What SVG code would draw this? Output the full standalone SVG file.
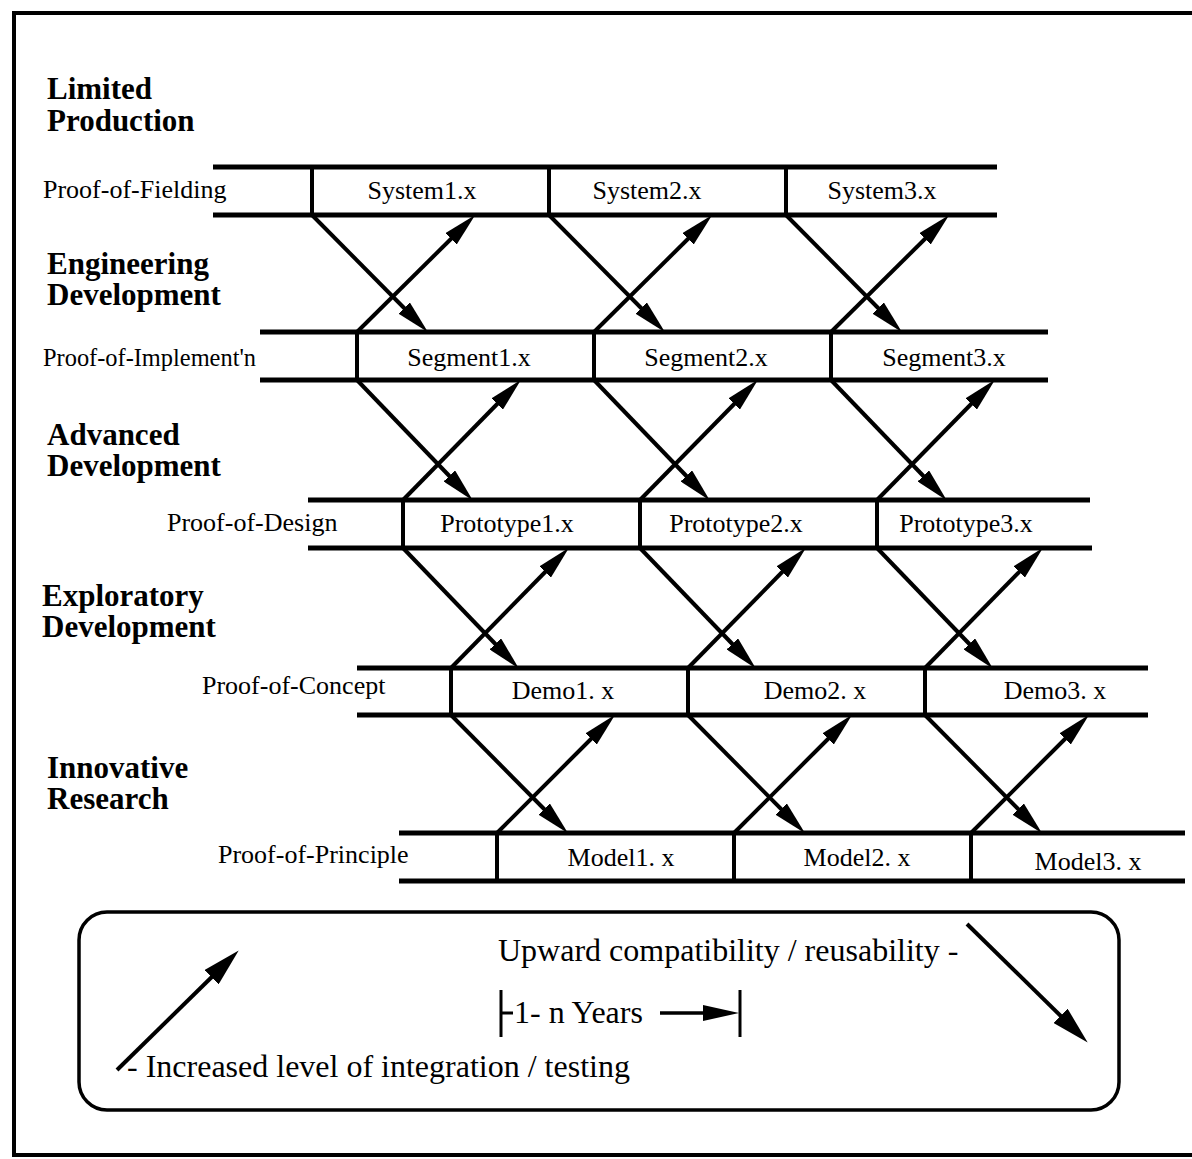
<svg xmlns="http://www.w3.org/2000/svg" width="1192" height="1159" viewBox="0 0 1192 1159">
<style>
.rail{stroke:#000;stroke-width:5;fill:none}
.div{stroke:#000;stroke-width:4;fill:none}
.con{stroke:#000;stroke-width:4;fill:none;marker-end:url(#ah)}
.lcon{stroke:#000;stroke-width:4;fill:none;marker-end:url(#ah2)}
.stage{font-family:"Liberation Serif","Times New Roman",serif;font-weight:bold;font-size:31px;fill:#000}
.lbl{font-family:"Liberation Serif","Times New Roman",serif;font-size:26px;fill:#000}
.box{font-family:"Liberation Serif","Times New Roman",serif;font-size:26px;fill:#000;text-anchor:middle}
.leg{font-family:"Liberation Serif","Times New Roman",serif;font-size:32px;fill:#000}
</style>
<defs>
<marker id="ah" viewBox="0 0 34 16" refX="14" refY="8" markerWidth="34" markerHeight="16" markerUnits="userSpaceOnUse" orient="auto">
<path d="M0,0 L34,8 L0,16 z" fill="#000"/>
</marker>
<marker id="ah2" viewBox="0 0 38 20" refX="16" refY="10" markerWidth="38" markerHeight="20" markerUnits="userSpaceOnUse" orient="auto">
<path d="M0,0 L38,10 L0,20 z" fill="#000"/>
</marker>
</defs>
<rect width="1192" height="1159" fill="#fff"/>
<g id="frame">
<path d="M1192,13 L14,13 L14,1155 L1192,1155" stroke="#000" stroke-width="4" fill="none"/>
</g>

<g id="stage-labels">
<text class="stage" x="47" y="99">Limited<tspan x="47" y="131">Production</tspan></text>
<text class="stage" x="47" y="274">Engineering<tspan x="47" y="305">Development</tspan></text>
<text class="stage" x="47" y="445">Advanced<tspan x="47" y="476">Development</tspan></text>
<text class="stage" x="42" y="606">Exploratory<tspan x="42" y="637">Development</tspan></text>
<text class="stage" x="47" y="778">Innovative<tspan x="47" y="809">Research</tspan></text>
</g>

<g id="row-fielding">
<line class="rail" x1="213" y1="167" x2="997" y2="167"/>
<line class="rail" x1="213" y1="215" x2="997" y2="215"/>
<text class="lbl" x="43" y="198">Proof-of-Fielding</text>
</g>
<g id="system1"><line class="div" x1="312" y1="167" x2="312" y2="215"/><text class="box" x="422" y="199">System1.x</text></g>
<g id="system2"><line class="div" x1="549" y1="167" x2="549" y2="215"/><text class="box" x="647" y="199">System2.x</text></g>
<g id="system3"><line class="div" x1="786" y1="167" x2="786" y2="215"/><text class="box" x="882" y="199">System3.x</text></g>

<g id="row-implementation">
<line class="rail" x1="260" y1="332" x2="1048" y2="332"/>
<line class="rail" x1="260" y1="380" x2="1048" y2="380"/>
<text class="lbl" x="43" y="366" textLength="213" lengthAdjust="spacingAndGlyphs">Proof-of-Implement'n</text>
</g>
<g id="segment1"><line class="div" x1="357" y1="332" x2="357" y2="380"/><text class="box" x="469" y="366">Segment1.x</text></g>
<g id="segment2"><line class="div" x1="594" y1="332" x2="594" y2="380"/><text class="box" x="706" y="366">Segment2.x</text></g>
<g id="segment3"><line class="div" x1="831" y1="332" x2="831" y2="380"/><text class="box" x="944" y="366">Segment3.x</text></g>

<g id="row-design">
<line class="rail" x1="308" y1="500" x2="1090" y2="500"/>
<line class="rail" x1="308" y1="548" x2="1092" y2="548"/>
<text class="lbl" x="167" y="531">Proof-of-Design</text>
</g>
<g id="prototype1"><line class="div" x1="403" y1="500" x2="403" y2="548"/><text class="box" x="507" y="532">Prototype1.x</text></g>
<g id="prototype2"><line class="div" x1="640" y1="500" x2="640" y2="548"/><text class="box" x="736" y="532">Prototype2.x</text></g>
<g id="prototype3"><line class="div" x1="877" y1="500" x2="877" y2="548"/><text class="box" x="966" y="532">Prototype3.x</text></g>

<g id="row-concept">
<line class="rail" x1="357" y1="668" x2="1148" y2="668"/>
<line class="rail" x1="357" y1="715" x2="1148" y2="715"/>
<text class="lbl" x="202" y="694">Proof-of-Concept</text>
</g>
<g id="demo1"><line class="div" x1="451" y1="668" x2="451" y2="715"/><text class="box" x="563" y="699">Demo1. x</text></g>
<g id="demo2"><line class="div" x1="688" y1="668" x2="688" y2="715"/><text class="box" x="815" y="699">Demo2. x</text></g>
<g id="demo3"><line class="div" x1="925" y1="668" x2="925" y2="715"/><text class="box" x="1055" y="699">Demo3. x</text></g>

<g id="row-principle">
<line class="rail" x1="399" y1="833" x2="1185" y2="833"/>
<line class="rail" x1="399" y1="881" x2="1185" y2="881"/>
<text class="lbl" x="218" y="863">Proof-of-Principle</text>
</g>
<g id="model1"><line class="div" x1="497" y1="833" x2="497" y2="881"/><text class="box" x="621" y="866">Model1. x</text></g>
<g id="model2"><line class="div" x1="734" y1="833" x2="734" y2="881"/><text class="box" x="857" y="866">Model2. x</text></g>
<g id="model3"><line class="div" x1="971" y1="833" x2="971" y2="881"/><text class="box" x="1088" y="870">Model3. x</text></g>

<g id="connectors">
<line class="con" x1="312" y1="215" x2="414" y2="318"/>
<line class="con" x1="549" y1="215" x2="651" y2="318"/>
<line class="con" x1="786" y1="215" x2="888" y2="318"/>
<line class="con" x1="357" y1="332" x2="461" y2="229"/>
<line class="con" x1="594" y1="332" x2="698" y2="229"/>
<line class="con" x1="831" y1="332" x2="935" y2="229"/>
<line class="con" x1="357" y1="380" x2="459" y2="486"/>
<line class="con" x1="594" y1="380" x2="696" y2="486"/>
<line class="con" x1="831" y1="380" x2="933" y2="486"/>
<line class="con" x1="403" y1="500" x2="507" y2="394"/>
<line class="con" x1="640" y1="500" x2="744" y2="394"/>
<line class="con" x1="877" y1="500" x2="981" y2="394"/>
<line class="con" x1="403" y1="548" x2="505" y2="654"/>
<line class="con" x1="640" y1="548" x2="742" y2="654"/>
<line class="con" x1="877" y1="548" x2="979" y2="654"/>
<line class="con" x1="451" y1="668" x2="555" y2="562"/>
<line class="con" x1="688" y1="668" x2="792" y2="562"/>
<line class="con" x1="925" y1="668" x2="1029" y2="562"/>
<line class="con" x1="451" y1="715" x2="554" y2="819"/>
<line class="con" x1="688" y1="715" x2="791" y2="819"/>
<line class="con" x1="925" y1="715" x2="1028" y2="819"/>
<line class="con" x1="497" y1="833" x2="601" y2="729"/>
<line class="con" x1="734" y1="833" x2="838" y2="729"/>
<line class="con" x1="971" y1="833" x2="1075" y2="729"/>
</g>

<g id="legend">
<rect x="79" y="912" width="1040" height="198" rx="28" ry="28" fill="none" stroke="#000" stroke-width="3.5"/>
<line class="lcon" x1="117" y1="1070" x2="223" y2="966"/>
<line class="lcon" x1="967" y1="924" x2="1072" y2="1027"/>
<text class="leg" x="498" y="961">Upward compatibility / reusability -</text>
<text class="leg" x="127" y="1077">- Increased level of integration / testing</text>
<line x1="501" y1="990" x2="501" y2="1037" stroke="#000" stroke-width="3"/>
<line x1="501" y1="1013" x2="513" y2="1013" stroke="#000" stroke-width="3"/>
<text class="leg" x="514" y="1023">1- n Years</text>
<line x1="660" y1="1013" x2="708" y2="1013" stroke="#000" stroke-width="3.5"/>
<path d="M703,1005 L739,1013 L703,1021 z" fill="#000"/>
<line x1="740" y1="990" x2="740" y2="1037" stroke="#000" stroke-width="3"/>
</g>
</svg>
